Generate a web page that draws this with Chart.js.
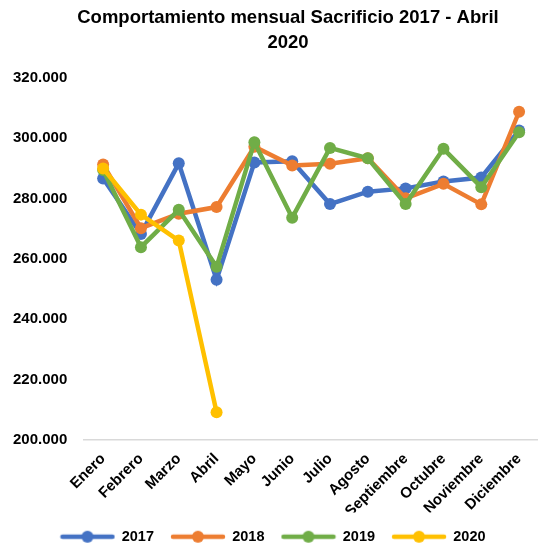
<!DOCTYPE html>
<html>
<head>
<meta charset="utf-8">
<script src="https://cdn.jsdelivr.net/npm/chart.js@4/dist/chart.umd.min.js"></script>
<style>
    html, body { margin: 0; padding: 0; background: #fff; }
    #wrap { width: 538px; height: 550px; }
</style>
</head>
<body>
<div id="wrap"><canvas id="sacrificioChart" width="538" height="550"></canvas></div>
<script>
// Datos
const meses = ['Enero', 'Febrero', 'Marzo', 'Abril', 'Mayo', 'Junio', 'Julio',
    'Agosto', 'Septiembre', 'Octubre', 'Noviembre', 'Diciembre'];
const anios = ['2017', '2018', '2019', '2020'];
const v2017 = [286700, 268300, 291700, 253100, 292000, 292400, 278200, 282300, 283400, 285700, 287000, 302600];
const v2018 = [291300, 270200, 275000, 277200, 297200, 291000, 291600, 293400, 280100, 284900, 278100, 308800];
const v2019 = [289500, 263900, 276300, 257400, 298700, 273700, 296800, 293400, 278200, 296500, 283800, 302000];
const v2020 = [290000, 274700, 266100, 209200];
const yTicks = [200000, 220000, 240000, 260000, 280000, 300000, 320000];
const colores = ['#4472C4', '#ED7D31', '#70AD47', '#FFC000'];

const FONT = "'Liberation Sans', Arial, sans-serif";

// Marca de leyenda: línea con círculo
function legendMark(color) {
    const c = document.createElement('canvas');
    c.width = 56;
    c.height = 16;
    const g = c.getContext('2d');
    g.strokeStyle = color;
    g.lineWidth = 4.5;
    g.lineCap = 'round';
    g.beginPath();
    g.moveTo(3, 8);
    g.lineTo(53, 8);
    g.stroke();
    g.fillStyle = color;
    g.beginPath();
    g.arc(28, 8, 6, 0, Math.PI * 2);
    g.fill();
    return c;
}

const fmt = (v) => v.toLocaleString('de-DE');

// título y leyenda un poco a la derecha, como en el original
const boxShift = {
    id: 'boxShift',
    afterLayout(chart) {
        if (chart.titleBlock) {
            chart.titleBlock.left += 21;
            chart.titleBlock.right += 21;
        }
        if (chart.legend) {
            chart.legend.left += 6;
            chart.legend.right += 6;
        }
    }
};

const series = [v2017, v2018, v2019, v2020];
const datasets = series.map((vals, i) => ({
    label: anios[i],
    data: vals,
    borderColor: colores[i],
    backgroundColor: colores[i],
    borderWidth: 4.5,
    pointRadius: 6,
    pointBorderWidth: 0,
    pointBackgroundColor: colores[i],
    tension: 0,
    order: 3 - i
}));

const ctx = document.getElementById('sacrificioChart').getContext('2d');
const chart = new Chart(ctx, {
    type: 'line',
    data: { labels: meses, datasets: datasets },
    plugins: [boxShift],
    options: {
        responsive: false,
        animation: false,
        layout: { autoPadding: false, padding: { top: 5, left: -4, right: 0, bottom: -4 } },
        plugins: {
            title: {
                display: true,
                text: ['Comportamiento mensual Sacrificio 2017 - Abril', '2020'],
                color: '#000',
                font: { family: FONT, size: 18.5, weight: 'bold', lineHeight: 1.35 },
                padding: { top: 0, bottom: 23 }
            },
            legend: {
                position: 'bottom',
                labels: {
                    usePointStyle: true,
                    pointStyleWidth: 54,
                    padding: 17,
                    color: '#000',
                    font: { family: FONT, size: 14.5, weight: 'bold' },
                    generateLabels: (c) => c.data.datasets.map((ds, i) => ({
                        text: ds.label,
                        pointStyle: legendMark(colores[i]),
                        fillStyle: colores[i],
                        strokeStyle: colores[i],
                        lineWidth: 0,
                        fontColor: '#000',
                        hidden: false,
                        datasetIndex: i
                    }))
                }
            },
            tooltip: { enabled: false }
        },
        scales: {
            x: {
                offset: true,
                grid: { display: false, drawTicks: false },
                border: { display: true, color: '#d9d9d9', width: 1.5 },
                afterFit: (s) => {
                    s.paddingRight = 0;
                    s.paddingLeft = 0;
                    s.height = s.height - 18;
                },
                ticks: {
                    color: '#000',
                    font: { family: FONT, size: 15, weight: 'bold' },
                    maxRotation: 45,
                    minRotation: 45,
                    padding: 10,
                    autoSkip: false
                }
            },
            y: {
                min: yTicks[0],
                max: yTicks[yTicks.length - 1],
                afterBuildTicks: (axis) => { axis.ticks = yTicks.map(v => ({ value: v })); },
                grid: { display: false, drawTicks: false },
                border: { display: false },
                ticks: {
                    color: '#000',
                    font: { family: FONT, size: 15, weight: 'bold' },
                    padding: 17,
                    callback: (v) => fmt(v)
                }
            }
        }
    }
});
</script>
</body>
</html>
